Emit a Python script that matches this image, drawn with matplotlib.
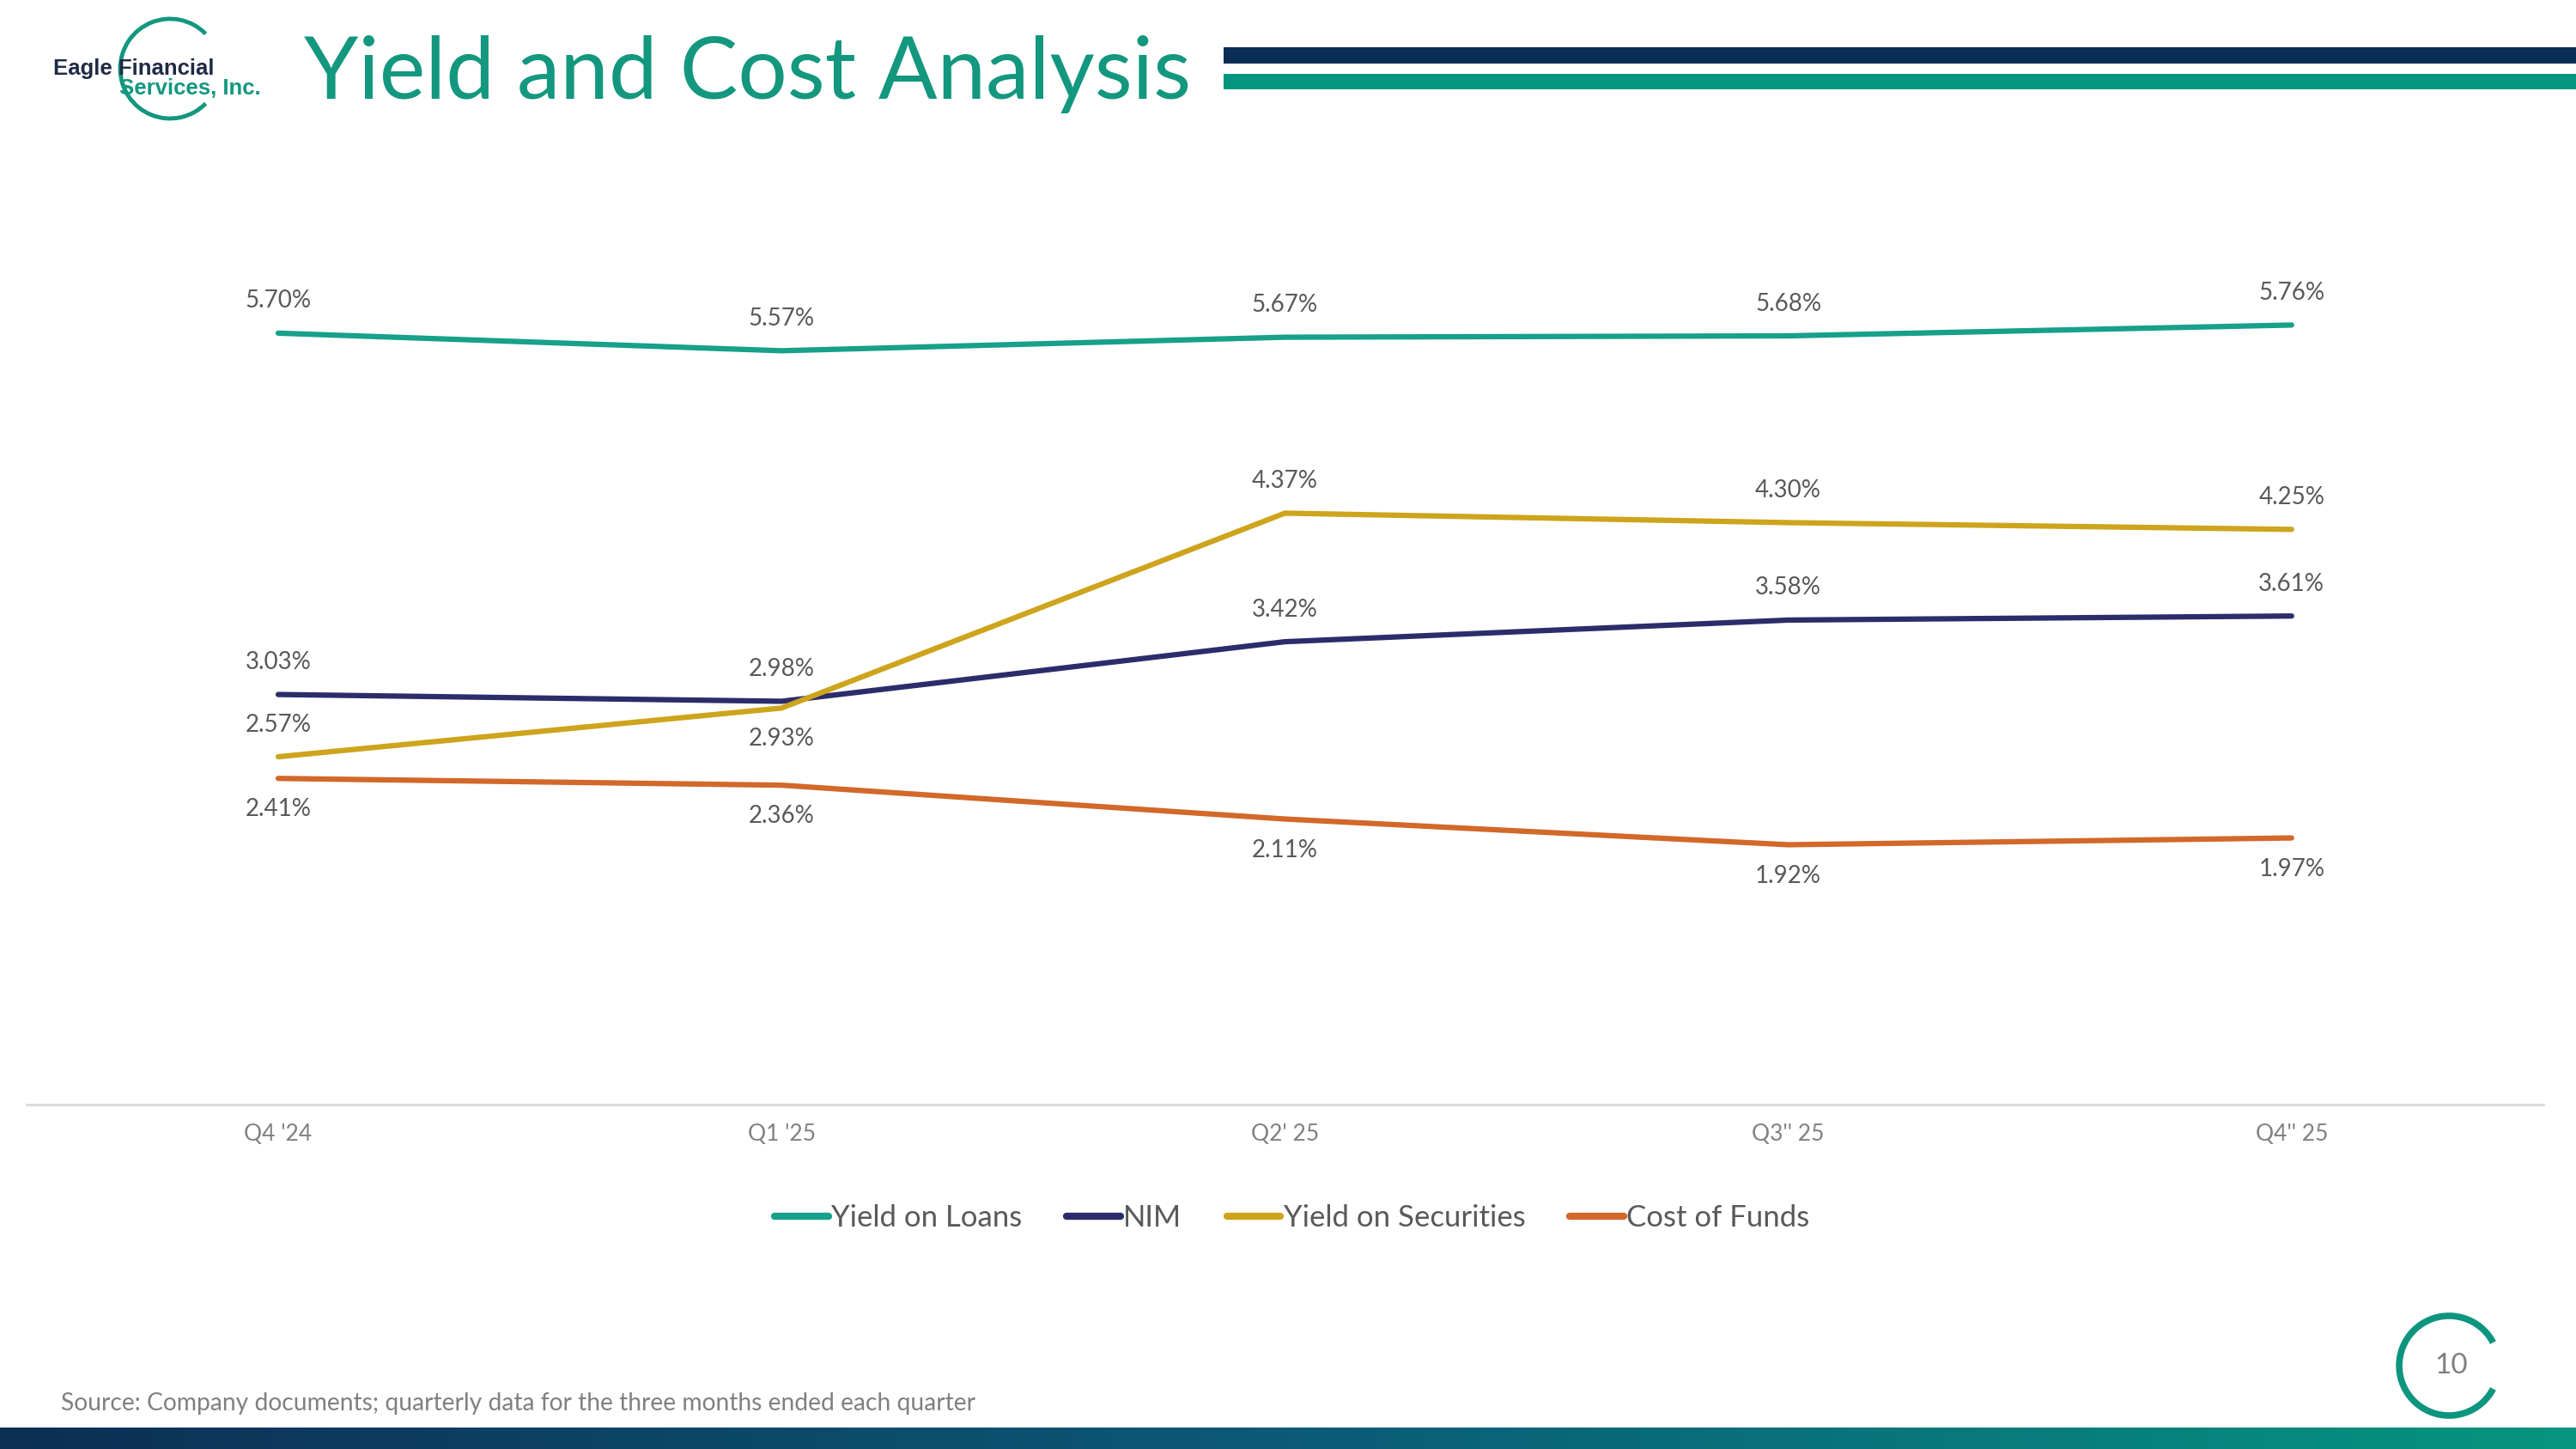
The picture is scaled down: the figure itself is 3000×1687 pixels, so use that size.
"""
Yield and cost analysis slide, quarterly rates
"""

import numpy as np
import matplotlib
matplotlib.use('Agg')
import matplotlib.pyplot as plt
from matplotlib.patches import Arc, Rectangle
from matplotlib.colors import LinearSegmentedColormap

plt.rcParams['font.family'] = ['Lato', 'DejaVu Sans']

quarters = ["Q4 '24", "Q1 '25", "Q2' 25", "Q3'' 25", "Q4'' 25"]
yield_on_loans = [5.70, 5.57, 5.67, 5.68, 5.76]
nim = [3.03, 2.98, 3.42, 3.58, 3.61]
yield_on_securities = [2.57, 2.93, 4.37, 4.30, 4.25]
cost_of_funds = [2.41, 2.36, 2.11, 1.92, 1.97]

series_names = ['Yield on Loans', 'NIM', 'Yield on Securities', 'Cost of Funds']

TEAL = '#17A08A'
NAVY_LINE = '#2B2D6B'
GOLD = '#CDA41C'
ORANGE = '#D2682A'
LABEL_GRAY = '#595959'
TICK_GRAY = '#808080'

fig = plt.figure(figsize=(30, 16.87), dpi=100)
fig.patch.set_facecolor('white')

ax = fig.add_axes([0.0103, 0.2377, 0.977, 0.6538])
x = np.arange(len(quarters))

series = [
    (yield_on_loans, TEAL, ['up'] * 5),
    (nim, NAVY_LINE, ['up'] * 5),
    (yield_on_securities, GOLD, ['up', 'down', 'up', 'up', 'up']),
    (cost_of_funds, ORANGE, ['down'] * 5),
]

for (values, color, where), name in zip(series, series_names):
    ax.plot(x, values, color=color, lw=4.5, label=name, solid_capstyle='round')
    for xi, v, w in zip(x, values, where):
        dy = 27 if w == 'up' else -26
        ax.annotate('{:.2f}%'.format(v), (xi, v), xytext=(0, dy),
                    textcoords='offset points', ha='center', va='center',
                    fontsize=20, color=LABEL_GRAY)

ax.set_xlim(-0.5, len(quarters) - 0.5)
ax.set_ylim(0, 7)
ax.set_xticks(x)
ax.set_xticklabels(quarters, fontsize=19, color=TICK_GRAY)
ax.set_yticks([])
ax.tick_params(axis='x', length=0, pad=16)
for side in ['top', 'left', 'right']:
    ax.spines[side].set_visible(False)
ax.spines['bottom'].set_color('#D9D9D9')
ax.spines['bottom'].set_linewidth(2)

leg = fig.legend(loc='center', bbox_to_anchor=(0.5016, 0.1595), ncol=4,
                 frameon=False, fontsize=25, handlelength=1.8,
                 handletextpad=0.1, columnspacing=1.5)
for line in leg.get_lines():
    line.set_linewidth(6)
for t in leg.get_texts():
    t.set_color(LABEL_GRAY)

# header: title and the two bars
fig.text(0.118, 0.9318, 'Yield and Cost Analysis', fontsize=73,
         color='#13977F', ha='left', va='baseline')
fig.add_artist(Rectangle((0.475, 0.9561), 0.525, 0.0113,
                         transform=fig.transFigure, color='#0A2D55', lw=0))
fig.add_artist(Rectangle((0.475, 0.9384), 0.525, 0.0107,
                         transform=fig.transFigure, color='#03957F', lw=0))

# logo
fig.add_artist(Arc((0.066, 0.9526), 2 * 58 / 3000, 2 * 58 / 1687,
                   theta1=60, theta2=300, transform=fig.transFigure,
                   color='#13977F', lw=3.5))
fig.text(0.0207, 0.9484, 'Eagle Financial', fontsize=18.5, fontweight='bold',
         color='#1F2A44', ha='left', va='baseline',
         family=['Liberation Sans', 'DejaVu Sans'])
fig.text(0.0463, 0.9345, 'Services, Inc.', fontsize=18.5, fontweight='bold',
         color='#13977F', ha='left', va='baseline',
         family=['Liberation Sans', 'DejaVu Sans'])

# footer
fig.text(0.0237, 0.0314, 'Source: Company documents; quarterly data for the '
         'three months ended each quarter', fontsize=20.3, color=TICK_GRAY,
         ha='left', va='center')

band = fig.add_axes([0, 0, 1, 0.0148])
cmap = LinearSegmentedColormap.from_list('band', ['#0B2F55', '#0B5A78', '#06957F'])
band.imshow(np.linspace(0, 1, 256).reshape(1, -1), aspect='auto', cmap=cmap)
band.axis('off')

# page number
fig.add_artist(Arc((0.9507, 0.0575), 2 * 58 / 3000, 2 * 58 / 1687,
                   theta1=43, theta2=317, transform=fig.transFigure,
                   color='#0E957F', lw=5.5))
fig.text(0.9515, 0.0575, '10', fontsize=24, color=TICK_GRAY,
         ha='center', va='center')

fig.savefig('out.png', dpi=100)
